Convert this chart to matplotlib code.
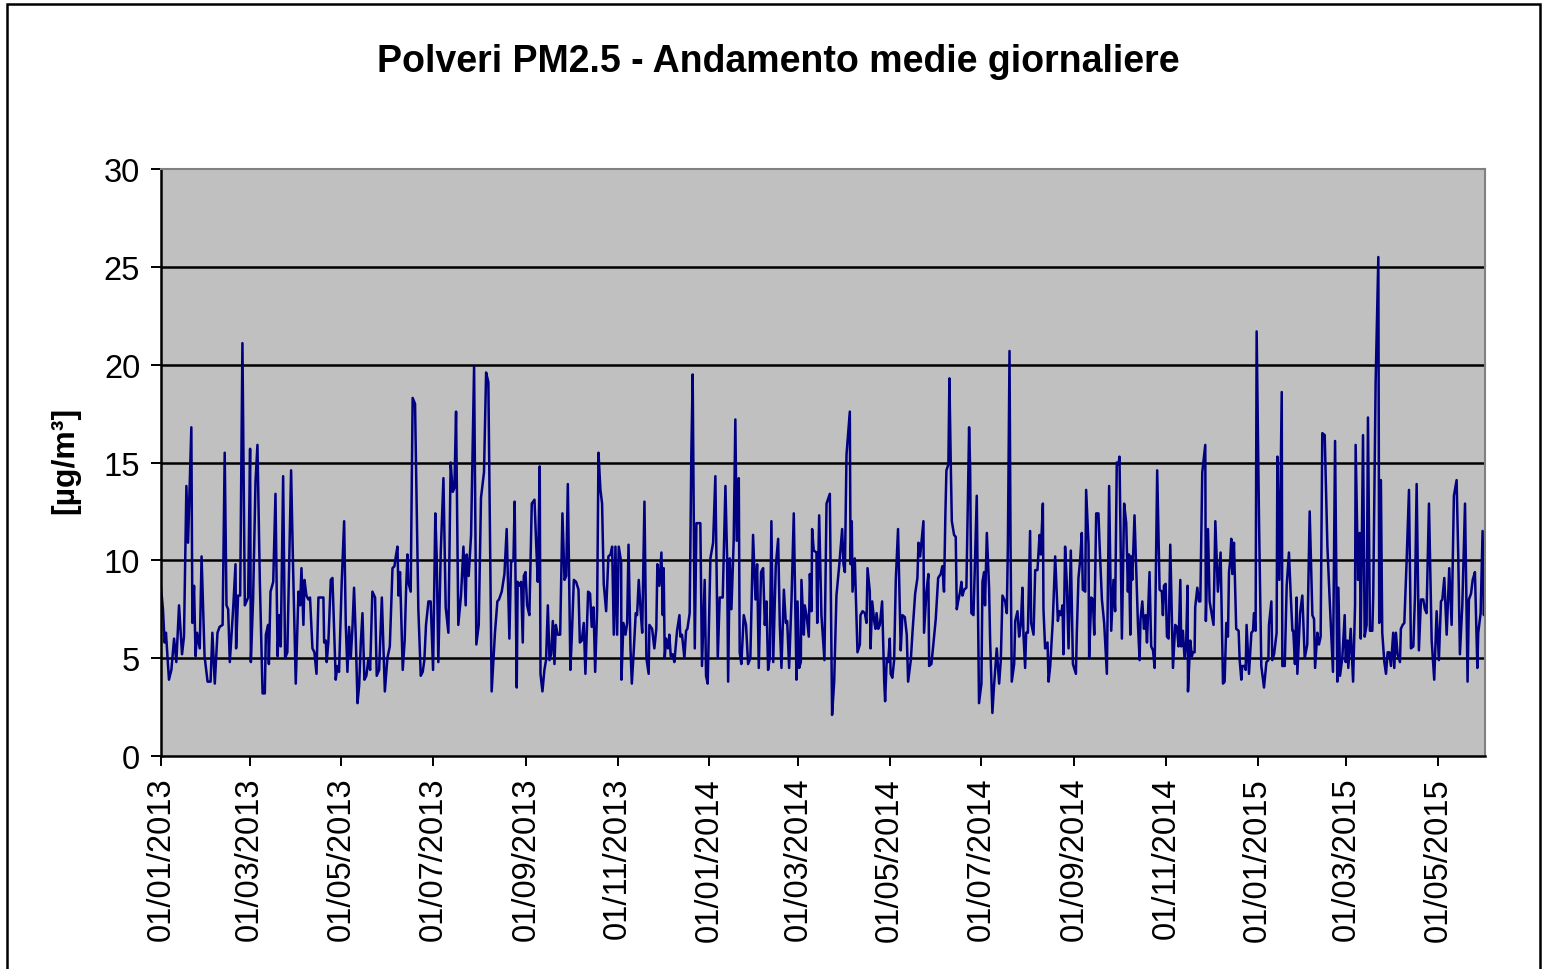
import numpy as np
import pandas as pd
import matplotlib
matplotlib.use("Agg")
import matplotlib.pyplot as plt
import matplotlib.dates as mdates
from matplotlib.patches import Rectangle

plt.rcParams['font.family'] = ['Liberation Sans', 'DejaVu Sans']

# daily PM2.5 means (days counted from 01/01/2013)
start = pd.Timestamp('2013-01-01')

days_2013 = [0, 1.3, 2.4, 3.3, 5.3, 6.9, 8.7, 10.2, 12.0, 14.0, 15.3, 16.9, 18.0, 20.2, 20.9, 22.0, 23.0, 24.0,
             25.8, 27.0, 29.0, 31.0, 33.0, 34.2, 35.8, 37.6, 39.0, 41.0, 42.4, 43.6, 44.7, 45.8, 48.0, 49.6,
             50.0, 51.3, 52.7, 54.2, 55.8, 56.9, 58.0, 59.3, 59.8, 61.3, 62.9, 64.2, 65.8, 67.6, 69.1, 69.8,
             71.3, 71.8, 72.9, 74.7, 76.2, 77.6, 78.7, 79.7, 81.3, 82.6, 84.1, 85.3, 86.6, 87.9, 89.7, 91.5,
             92.6, 93.5, 94.8, 95.5, 96.8, 98.1, 99.2, 100.8, 102.1, 103.5, 104.8, 106.3, 108.1, 108.6, 109.7,
             110.3, 111.4, 113.0, 114.1, 114.8, 116.3, 117.4, 118.5, 120.3, 121.9, 123.0, 124.1, 125.2, 126.3,
             127.4, 128.5, 129.6, 130.8, 131.9, 133.0, 134.1, 135.4, 136.7, 138.1, 139.2, 140.7, 142.5, 143.6,
             145.2, 147.0, 149.0, 150.7, 152.3, 154.1, 155.4, 156.3, 157.4, 158.1, 159.1, 160.9, 162.2, 163.1,
             164.0, 164.6, 166.2, 167.5, 169.1, 171.3, 172.9, 174.2, 175.3, 176.4, 178.0, 179.5, 181.1, 182.6,
             183.5, 184.6, 186.2, 188.0, 189.5, 191.3, 192.8, 194.2, 195.3, 196.4, 197.9, 199.7, 201.3, 202.8,
             203.5, 204.8, 206.4, 208.4, 209.9, 211.5, 213.0, 215.0, 216.4, 217.9, 220.1, 222.3, 223.9, 225.0,
             226.8, 228.6, 230.1, 231.9, 233.0, 234.6, 235.4, 236.8, 237.4, 238.5, 239.7, 240.8, 241.5, 242.6,
             243.7, 245.2, 246.8, 248.6, 249.7, 250.8, 252.1, 252.6, 253.9, 255.2, 256.3, 257.5, 258.6, 259.7,
             260.8, 261.9, 262.8, 264.1, 265.7, 267.2, 268.6, 269.7, 270.8, 272.5, 273.4, 274.8, 276.3, 277.9,
             278.8, 280.1, 281.4, 282.5, 284.3, 285.6, 286.7, 287.9, 289.0, 290.3, 291.2, 292.5, 293.6, 294.7,
             296.3, 297.8, 299.2, 300.3, 301.4, 302.5, 303.6, 304.7, 306.3, 306.5, 307.8, 309.2, 310.3, 311.2,
             312.5, 313.4, 314.7, 316.0, 316.9, 318.0, 319.2, 320.3, 321.8, 323.1, 324.6, 325.1, 326.9, 328.4,
             329.7, 330.4, 331.7, 333.1, 334.0, 334.6, 335.3, 336.2, 337.5, 338.4, 339.3, 340.6, 341.7, 343.5,
             345.1, 345.7, 346.8, 348.4, 349.5, 350.4, 351.9, 353.0, 353.9, 355.3, 356.4, 359.0, 360.1, 361.9,
             362.8, 363.9]
pm_2013 = [8.6, 7.5, 5.8, 6.3, 3.9, 4.4, 6.0, 4.8, 7.7, 5.2, 6.1, 13.8, 10.9, 16.8, 6.8, 8.7, 5.1, 6.3,
           5.5, 10.2, 5.1, 3.8, 3.8, 6.3, 3.7, 6.3, 6.6, 6.7, 15.5, 7.7, 7.5, 4.8, 7.5, 9.8,
           5.5, 8.2, 8.2, 21.1, 7.7, 7.9, 8.1, 15.7, 4.8, 8.0, 14.0, 15.9, 8.9, 3.2, 3.2, 6.2,
           6.7, 4.7, 8.4, 8.9, 13.4, 5.1, 7.2, 5.6, 14.3, 5.0, 5.3, 9.9, 14.6, 9.7, 3.7, 8.4,
           7.7, 9.6, 6.7, 9.0, 8.2, 8.0, 8.1, 5.5, 5.3, 4.2, 8.1, 8.1, 8.1, 5.8, 5.9,
           4.8, 5.8, 9.0, 9.1, 7.5, 3.9, 4.6, 4.3, 8.9, 12.0, 6.7, 4.3, 6.6, 5.0,
           6.5, 8.6, 6.2, 2.7, 3.6, 5.8, 7.3, 3.9, 4.1, 5.0, 4.4, 8.4, 8.1, 4.1,
           4.4, 8.1, 3.3, 5.0, 5.6, 9.6, 9.7, 10.2, 10.7, 8.2, 9.4, 4.4, 5.9, 8.4,
           10.3, 8.9, 8.4, 18.3, 18.0, 7.5, 4.1, 4.3, 4.9, 6.7, 7.9, 7.9, 4.4, 12.4,
           10.2, 4.8, 10.4, 14.2, 7.6, 6.3, 15.0, 13.5, 13.7, 17.6, 6.7, 8.2, 10.7, 7.7,
           10.3, 9.2, 11.3, 19.9, 5.7, 6.7, 13.2, 14.5, 19.6, 19.1, 3.3, 6.3, 7.9, 8.0,
           8.4, 9.3, 11.6, 6.0, 9.9, 10.0, 13.0, 3.5, 8.9, 8.7, 8.9, 5.8, 9.2, 9.4,
           7.7, 7.2, 12.9, 13.1, 10.9, 8.9, 14.8, 4.2, 3.3, 4.4, 4.9, 7.7, 4.9, 5.2,
           6.9, 4.7, 6.7, 6.2, 6.2, 12.4, 9.0, 9.2, 13.9, 4.4, 6.0, 9.0, 8.9, 8.5,
           5.8, 5.9, 6.8, 4.2, 8.4, 8.3, 6.6, 7.6, 4.3, 7.5, 15.5, 13.6, 12.9, 8.8,
           7.4, 10.2, 10.3, 10.7, 6.2, 10.7, 6.2, 10.7, 9.9, 3.9, 6.8, 6.2, 6.8, 10.8,
           5.5, 3.7, 5.4, 7.3, 7.2, 9.0, 7.5, 6.3, 13.0, 5.0, 4.2, 6.7, 6.5, 5.5,
           6.5, 9.8, 8.7, 10.4, 7.2, 9.6, 5.0, 6.0, 5.5, 6.2, 5.1, 5.2, 4.8, 6.4,
           7.2, 6.1, 6.2, 5.0, 6.4, 6.5, 7.3, 15.4, 19.5, 5.5, 11.9, 11.9, 4.6, 9.0,
           4.1, 3.7]

days_2014 = [365.7, 367.5, 369.0, 370.6, 371.9, 373.9, 375.7, 376.8, 377.5, 378.6, 379.7, 381.2, 382.3, 383.2,
             384.6, 385.2, 386.3, 387.9, 389.4, 390.8, 392.3, 394.1, 395.7, 396.8, 397.9, 399.4, 400.8, 401.9,
             403.0, 404.1, 405.2, 406.3, 407.5, 409.2, 410.8, 411.9, 413.0, 414.6, 415.9, 416.8, 418.1, 419.7,
             421.2, 423.0, 423.7, 424.8, 425.9, 426.3, 427.9, 428.5, 429.7, 431.2, 431.9, 433.0, 433.4, 434.5,
             436.3, 436.8, 438.1, 439.6, 441.6, 443.0, 445.2, 446.7, 448.1, 449.6, 451.4, 453.4, 454.3, 455.2,
             456.3, 458.5, 459.0, 459.8, 460.3, 461.8, 463.6, 465.2, 465.6, 467.0, 468.5, 469.6, 470.3, 471.8,
             472.3, 473.4, 474.7, 475.6, 476.3, 477.4, 478.5, 480.0, 481.4, 482.0, 483.1, 484.0, 485.1, 485.7,
             486.8, 488.0, 489.1, 490.6, 492.4, 493.5, 495.1, 496.4, 497.3, 499.1, 500.2, 502.0, 503.5, 504.2,
             505.3, 507.5, 507.9, 509.5, 510.8, 511.3, 512.8, 514.1, 515.7, 517.3, 519.0, 520.1, 521.2, 522.1,
             522.8, 524.1, 524.8, 525.7, 526.4, 527.9, 529.0, 529.7, 530.6, 531.9, 532.8, 533.5, 534.6, 536.1,
             537.9, 538.6, 539.4, 540.8, 541.7, 543.0, 544.5, 546.1, 546.8, 547.9, 548.5, 549.7, 551.2, 551.9,
             553.4, 554.5, 556.3, 557.9, 559.0, 560.1, 561.9, 563.0, 563.7, 564.8, 565.5, 566.3, 567.9, 568.6,
             570.1, 571.2, 572.3, 573.4, 574.1, 575.2, 575.9, 577.0, 578.5, 579.2, 580.8, 581.9, 583.4, 584.8,
             585.6, 587.0, 587.4, 588.5, 590.1, 590.8, 591.9, 593.6, 595.2, 597.0, 597.9, 599.0, 600.1, 600.7,
             601.8, 603.0, 604.1, 605.6, 607.0, 609.0, 609.6, 610.7, 611.8, 612.9, 613.6, 615.2, 615.8, 617.4,
             617.8, 619.2, 620.3, 621.2, 622.5, 624.0, 624.7, 626.3, 627.8, 629.6, 631.1, 632.5, 634.0, 635.1,
             636.2, 637.4, 638.0, 639.6, 641.1, 642.5, 643.6, 644.3, 645.2, 645.8, 646.5, 648.0, 649.6, 650.3,
             651.4, 652.0, 653.2, 654.3, 655.4, 656.3, 658.0, 659.1, 660.3, 661.4, 663.1, 664.7, 666.2, 666.9,
             667.6, 668.7, 669.6, 670.7, 671.8, 673.6, 675.1, 676.2, 677.3, 678.5, 679.1, 680.2, 681.3, 682.4,
             683.3, 683.6, 685.1, 686.2, 686.9, 688.0, 688.4, 689.8, 690.9, 691.8, 693.1, 695.1, 695.5, 696.9,
             698.0, 699.1, 700.6, 701.8, 703.5, 705.3, 706.9, 708.0, 709.1, 710.2, 710.9, 711.7, 712.4, 713.1,
             714.2, 715.7, 717.3, 718.0, 719.1, 719.7, 721.3, 722.0, 722.6, 724.2, 725.8, 726.9, 727.5, 728.6,
             729.3]
pm_2014 = [10.1, 10.9, 14.3, 5.0, 8.1, 8.1, 13.8, 10.2, 3.8, 10.1, 7.5, 11.0, 17.2, 11.0,
           14.2, 5.3, 4.7, 7.2, 6.7, 4.7, 5.0, 11.3, 8.0, 9.8, 4.5, 9.4, 9.6, 6.7,
           7.9, 4.4, 5.0, 12.0, 4.8, 9.7, 11.1, 6.7, 4.5, 8.5, 6.8, 6.9, 4.5, 8.0,
           12.4, 3.9, 7.9, 4.5, 4.8, 9.0, 6.2, 7.7, 7.2, 6.1, 9.3, 7.4, 11.6, 10.5,
           10.4, 6.8, 12.3, 7.2, 4.9, 12.9, 13.4, 2.1, 3.8, 8.2, 9.7, 11.6, 9.8, 9.4,
           15.4, 17.6, 9.8, 12.0, 8.4, 10.1, 5.3, 5.7, 7.2, 7.4, 7.3, 6.8, 9.6, 8.4,
           5.5, 7.9, 6.9, 6.5, 7.3, 6.5, 6.7, 7.9, 3.8, 2.8, 5.0, 4.8, 6.0, 4.2,
           4.0, 4.9, 9.0, 11.6, 5.4, 7.2, 7.1, 6.2, 3.8, 4.9, 6.3, 8.3, 9.1, 10.9,
           10.2, 12.0, 6.3, 8.4, 9.3, 4.6, 4.7, 5.7, 7.0, 9.1, 9.3, 9.7, 8.4, 12.3,
           14.6, 14.9, 19.3, 14.9, 12.0, 11.3, 11.2, 7.5, 7.9, 8.4, 8.9, 8.2, 8.5, 8.6,
           16.8, 14.7, 7.3, 7.2, 9.6, 13.3, 2.7, 3.7, 8.9, 9.4, 7.7, 11.4, 8.6, 5.9,
           2.2, 3.6, 5.5, 3.7, 4.9, 8.2, 7.9, 7.3, 10.7, 20.7, 10.7, 3.8, 4.7, 6.9,
           7.4, 6.1, 6.7, 8.6, 6.2, 4.5, 6.3, 6.3, 11.5, 6.8, 6.2, 9.5, 9.5, 11.3,
           10.3, 12.9, 7.5, 5.5, 5.8, 3.8, 4.6, 6.9, 10.2, 6.9, 7.4, 7.2, 7.7, 5.2,
           10.7, 8.7, 5.5, 10.5, 4.7, 4.2, 6.3, 9.1, 10.0, 11.4, 8.5, 8.4, 13.6, 10.8,
           5.0, 8.1, 8.0, 6.2, 12.4, 12.4, 10.9, 8.0, 6.8, 4.2, 13.8, 6.4, 9.0, 7.4,
           15.0, 14.9, 15.3, 6.0, 12.9, 11.9, 8.4, 10.3, 6.2, 10.2, 9.0, 12.3, 8.3, 6.7,
           4.9, 7.0, 7.9, 6.5, 7.2, 5.8, 9.4, 5.6, 5.4, 4.5, 14.6, 8.5, 8.4, 7.2,
           8.7, 8.8, 6.1, 6.0, 10.8, 4.5, 6.7, 6.6, 5.6, 9.0, 5.6, 6.4, 5.0, 5.8,
           8.7, 3.3, 5.9, 5.1, 5.3, 5.3, 7.6, 8.6, 7.9, 7.9, 14.5, 15.9, 6.9, 11.6,
           7.9, 7.4, 6.7, 12.0, 8.4, 10.4, 3.7, 3.8, 6.8, 6.1, 9.4, 10.0, 11.1, 9.3,
           10.9, 6.5, 6.4, 4.9, 3.9, 4.6, 4.6, 4.4, 6.7, 4.2, 6.3, 6.4, 7.3, 6.4,
           21.7]

days_2015 = [730.9, 732.4, 734.2, 735.8, 737.1, 737.5, 739.1, 739.7, 740.9, 742.6, 743.1, 744.4, 746.0, 746.4,
             748.0, 749.3, 750.8, 752.0, 753.1, 753.7, 754.8, 755.9, 756.4, 758.2, 759.7, 761.3, 763.0, 764.6,
             766.4, 767.5, 768.2, 769.7, 770.8, 771.9, 773.0, 774.6, 776.4, 777.9, 780.1, 781.5, 783.0, 783.7,
             784.8, 786.3, 787.9, 788.6, 789.7, 790.3, 791.9, 793.5, 794.8, 795.2, 796.8, 797.9, 798.6, 800.1,
             801.2, 802.5, 803.4, 804.7, 806.3, 806.9, 808.5, 810.3, 810.9, 812.0, 812.9, 814.3, 815.4, 816.5,
             817.6, 818.7, 820.2, 820.9, 822.0, 823.1, 824.7, 825.3, 826.5, 827.6, 829.1, 830.7, 832.0, 833.6,
             834.7, 835.8, 837.3, 838.7, 840.2, 841.3, 842.4, 844.0, 845.8, 847.5, 849.1, 850.6, 852.0, 852.9,
             854.2, 855.8, 857.5, 859.1, 860.6, 862.4, 863.5, 864.6, 866.2, 868.0, 869.7, 870.6, 872.0, 873.1,
             874.6, 876.2, 876.8, 878.4, 879.7, 880.6, 881.3]
pm_2015 = [11.9, 4.6, 3.5, 4.8, 4.9, 6.7, 7.9, 4.9, 5.2, 6.3, 15.3, 9.0, 18.6, 4.6,
           4.6, 8.7, 10.4, 8.2, 6.4, 6.4, 4.7, 8.1, 4.2, 7.3, 8.2, 5.0, 5.7, 12.5,
           7.2, 7.0, 4.5, 6.3, 5.7, 6.1, 16.5, 16.4, 10.7, 8.0, 4.3, 16.1, 3.8, 8.6,
           4.1, 5.0, 7.2, 4.8, 5.9, 4.5, 6.5, 3.8, 7.7, 15.9, 9.0, 11.4, 6.0, 16.4,
           6.1, 6.7, 17.3, 6.4, 6.4, 8.2, 19.1, 25.5, 6.8, 14.1, 6.3, 4.8, 4.2, 5.3,
           5.3, 4.6, 6.3, 4.5, 6.3, 5.2, 4.8, 6.5, 6.7, 6.8, 9.9, 13.6, 5.5, 5.6,
           8.2, 13.9, 5.4, 8.0, 8.0, 7.5, 7.3, 12.9, 5.9, 3.9, 7.4, 4.9, 7.9, 8.0,
           9.1, 6.2, 9.6, 6.7, 13.3, 14.1, 10.2, 5.2, 7.7, 12.9, 3.8, 8.0, 8.3, 9.0,
           9.4, 4.5, 6.3, 7.3, 11.5, 7.2, 10.3]

yticks = [0, 5, 10, 15, 20, 25, 30]

days = days_2013 + days_2014 + days_2015
pm25 = pm_2013 + pm_2014 + pm_2015
dates = start + pd.to_timedelta(np.array(days), unit='D')

fig = plt.figure(figsize=(15.47, 9.70), dpi=100)
ax = fig.add_axes([161 / 1547, 1 - 757 / 970, (1485 - 161) / 1547, (757 - 170) / 970])
ax.set_facecolor('#C0C0C0')

for v in yticks[1:-1]:
    ax.axhline(v, color='black', lw=1.8, zorder=1)
ax.plot(dates, pm25, color='#000080', lw=1.8, zorder=2)

ax.set_ylim(yticks[0], yticks[-1])
ax.set_yticks(yticks)
ax.set_xlim(dates[0], dates[-1])
ax.xaxis.set_major_locator(mdates.MonthLocator(bymonth=[1, 3, 5, 7, 9, 11]))
ax.xaxis.set_major_formatter(mdates.DateFormatter('%d/%m/%Y'))

ax.tick_params(axis='both', direction='out', length=7, width=1.4, labelsize=23.5, pad=8)
plt.setp(ax.get_xticklabels(), rotation=90)

for side in ['left', 'bottom']:
    ax.spines[side].set_color('black')
    ax.spines[side].set_linewidth(1.8)
for side in ['top', 'right']:
    ax.spines[side].set_color('#808080')
    ax.spines[side].set_linewidth(1.5)

fig.text(0.503, 1 - 62 / 970, 'Polveri PM2.5 - Andamento medie giornaliere', ha='center', va='center',
         fontsize=27, fontweight='bold')
fig.text(65 / 1547, 1 - 460 / 970, '[µg/m³]', ha='center', va='center', rotation=90,
         fontsize=23, fontweight='bold')

# outer chart border
fig.patches.append(Rectangle((7 / 1547, -0.02), (1540 - 7) / 1547, 1.02 - 5 / 970, transform=fig.transFigure,
                             fill=False, edgecolor='black', lw=1.8))

fig.savefig('out.png', dpi=100)
